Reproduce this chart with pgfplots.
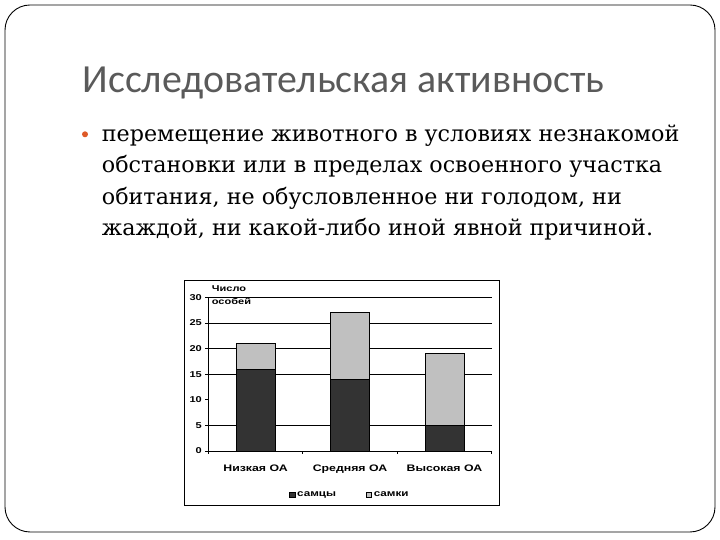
\documentclass[border=0pt]{standalone}
\usepackage{fontspec}
\usepackage{pgfplots}
\pgfplotsset{compat=1.18}
\setmainfont{DejaVu Serif}
\newfontfamily\titlefont{Carlito}
\newfontfamily\chartfont[FakeStretch=1.3]{Liberation Sans}
\definecolor{titlegray}{RGB}{90,90,90}
\definecolor{bulletc}{RGB}{222,90,40}
\definecolor{males}{RGB}{51,51,51}
\definecolor{females}{RGB}{192,192,192}

\begin{document}
\begin{tikzpicture}[x=1bp,y=1bp]
\useasboundingbox (0,0) rectangle (720,540);
% slide frame
\draw[line width=0.9bp, rounded corners=25bp] (5,8) rectangle (715,535);

% title and text
\node[anchor=base west, inner sep=0, text=titlegray,
      font=\titlefont\fontsize{40}{44}\selectfont] at (82.7,447.7)
      {Исследовательская активность};
\fill[bulletc] (85,405.7) circle (3bp);
\node[anchor=base west, inner sep=0, align=left,
      font=\fontsize{22.3}{31.5}\selectfont] at (101.7,304.5)
      {перемещение животного в условиях незнакомой\\
       обстановки или в пределах освоенного участка\\
       обитания, не обусловленное ни голодом, ни\\
       жаждой, ни какой-либо иной явной причиной.};

% chart frame
\draw[line width=0.8bp] (184.5,35) rectangle (499,260);

\begin{axis}[
    at={(208.3bp,89bp)}, anchor=south west,
    scale only axis, width=283.4bp, height=153.7bp,
    ybar stacked, bar width=0.41,
    xmin=-0.5, xmax=2.5, ymin=0, ymax=30,
    axis x line*=bottom, axis y line*=left,
    axis line style={black, line width=0.6bp},
    xtick={0,1,2},
    xticklabels={Низкая ОА,Средняя ОА,Высокая ОА},
    major x tick style={draw=none},
    minor xtick={-0.5,0.5,1.5,2.5},
    minor x tick style={black, line width=0.6bp},
    minor tick length=3bp,
    ytick={0,5,...,30},
    tick align=outside, major tick length=3bp,
    ytick style={black, line width=0.6bp},
    extra y ticks={5,15,20,25,30}, extra y tick labels={},
    extra y tick style={grid=major, major tick length=0bp},
    major grid style={black, line width=0.6bp},
    /pgf/number format/assume math mode=true,
    yticklabel style={font=\chartfont\bfseries\fontsize{8.5}{9}\selectfont},
    xticklabel style={font=\chartfont\bfseries\fontsize{9.5}{10}\selectfont, yshift=-7bp},
    legend image code/.code={\draw[#1] (0bp,-2.7bp) rectangle (5.4bp,2.7bp);},
    legend style={draw=none, fill=none, legend columns=2, at={(0.5,-0.286)},
        anchor=center, font=\chartfont\bfseries\fontsize{9}{10}\selectfont,
        /tikz/every even column/.append style={column sep=28bp}},
    clip=false,
]
\addplot[fill=males, draw=black, line width=0.4bp] coordinates {(0,16) (1,14) (2,5)};
\addplot[fill=females, draw=black, line width=0.4bp] coordinates {(0,5) (1,13) (2,14)};
\legend{самцы, самки}
\node[anchor=north west, inner sep=0, align=left,
      font=\chartfont\bfseries\fontsize{8.5}{13}\selectfont]
      at (rel axis cs:0.012,1.075) {Число\\особей};
\end{axis}
\end{tikzpicture}
\end{document}
